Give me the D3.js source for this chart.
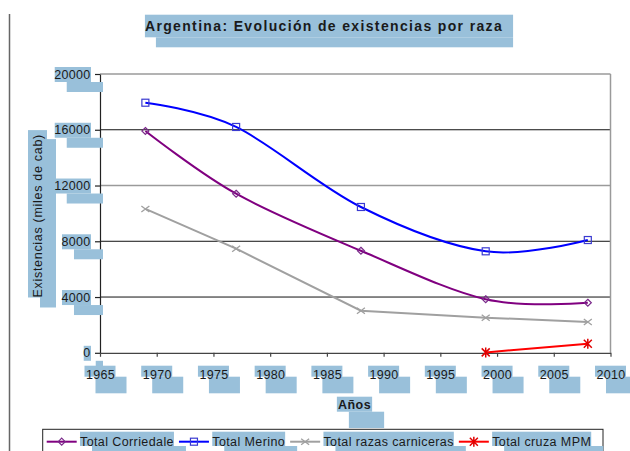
<!DOCTYPE html>
<html>
<head>
<meta charset="utf-8">
<script src="https://cdn.jsdelivr.net/npm/d3@7"></script>
<style>
  html, body { margin: 0; padding: 0; background: #fff; }
  svg { display: block; }
  text { font-family: "Liberation Sans", Arial, sans-serif; fill: #1a1a1a; }
</style>
</head>
<body>
<script>
// ---- data ----
const years = [1969, 1977, 1988, 1999, 2008];
const corriedale = [15910, 11410, 7320, 3840, 3590];
const merino = [17940, 16200, 10460, 7280, 8090];
const carniceras = [10320, 7470, 3020, 2520, 2210];
const mpmYears = [1999, 2008];
const mpm = [30, 650];
const yTicks = [0, 4000, 8000, 12000, 16000, 20000];
const xTicks = [1965, 1970, 1975, 1980, 1985, 1990, 1995, 2000, 2005, 2010];
const seriesNames = ["Total Corriedale", "Total Merino", "Total razas carniceras", "Total cruza MPM"];
const titleText = "Argentina: Evolución de existencias por raza";
const yTitle = "Existencias (miles de cab)";
const xTitle = "Años";

// ---- setup ----
const W = 630, H = 451;
const HL = "#99c0da";
const svg = d3.select("body").append("svg").attr("width", W).attr("height", H);
const gChart = svg.append("g");
const gHi = svg.append("g");
const gText = svg.append("g");

const x = d3.scaleLinear().domain([1965, 2010]).range([100, 610.5]);
const y = d3.scaleLinear().domain([0, 20000]).range([352.8, 74]);

// page border line on the left
gChart.append("line").attr("x1", 9.5).attr("x2", 9.5).attr("y1", 14).attr("y2", H)
  .attr("stroke", "#666").attr("stroke-width", 1.5);

// gridlines
gChart.selectAll("line.grid").data(yTicks.filter(v => v > 0)).join("line")
  .attr("class", "grid")
  .attr("x1", x(1965)).attr("x2", x(2010))
  .attr("y1", d => y(d)).attr("y2", d => y(d))
  .attr("stroke", d => (d === 12000 || d === 20000) ? "#9a9a9a" : "#111")
  .attr("stroke-width", d => (d === 12000 || d === 20000) ? 1.7 : 1);

// right border of plot
gChart.append("line").attr("x1", x(2010)).attr("x2", x(2010))
  .attr("y1", y(20000)).attr("y2", y(0)).attr("stroke", "#9a9a9a").attr("stroke-width", 1.5);

// axes
const yAxis = gChart.append("g").attr("transform", `translate(${x(1965)},0)`)
  .call(d3.axisLeft(y).tickValues(yTicks).tickSize(5).tickSizeOuter(0).tickFormat(""));
yAxis.selectAll("path,line").attr("stroke", "#222").attr("stroke-width", 1.2);
const xAxis = gChart.append("g").attr("transform", `translate(0,${y(0)})`)
  .call(d3.axisBottom(x).tickValues(xTicks).tickSize(4).tickSizeOuter(0).tickFormat(""));
xAxis.selectAll("path,line").attr("stroke", "#444").attr("stroke-width", 1.2);

// series
const smooth = d3.line().x(d => x(d[0])).y(d => y(d[1])).curve(d3.curveCardinal.tension(0));
const straight = d3.line().x(d => x(d[0])).y(d => y(d[1]));
const series = [
  { name: seriesNames[0], pts: years.map((yr, i) => [yr, corriedale[i]]), color: "#800080", line: smooth, marker: "diamond", mcolor: "#7a2a8a" },
  { name: seriesNames[1], pts: years.map((yr, i) => [yr, merino[i]]), color: "#0000ff", line: smooth, marker: "square", mcolor: "#3a3ad0" },
  { name: seriesNames[2], pts: years.map((yr, i) => [yr, carniceras[i]]), color: "#a0a0a0", line: straight, marker: "x", mcolor: "#a0a0a0" },
  { name: seriesNames[3], pts: mpmYears.map((yr, i) => [yr, mpm[i]]), color: "#ff0000", line: straight, marker: "star", mcolor: "#e00000" }
];

function drawMarker(g, type, cx, cy, color) {
  if (type === "diamond") {
    g.append("path").attr("d", `M${cx},${cy - 3.5}L${cx + 3.5},${cy}L${cx},${cy + 3.5}L${cx - 3.5},${cy}Z`)
      .attr("fill", "none").attr("stroke", color).attr("stroke-width", 1.2);
  } else if (type === "square") {
    g.append("rect").attr("x", cx - 3.5).attr("y", cy - 3.5).attr("width", 7).attr("height", 7)
      .attr("fill", "none").attr("stroke", color).attr("stroke-width", 1.2);
  } else if (type === "x") {
    g.append("path").attr("d", `M${cx - 4},${cy - 3}L${cx + 4},${cy + 3}M${cx - 4},${cy + 3}L${cx + 4},${cy - 3}`)
      .attr("stroke", color).attr("stroke-width", 1.3);
  } else if (type === "star") {
    g.append("path").attr("d", `M${cx - 4},${cy - 4}L${cx + 4},${cy + 4}M${cx - 4},${cy + 4}L${cx + 4},${cy - 4}M${cx},${cy - 5}L${cx},${cy + 5}`)
      .attr("stroke", color).attr("stroke-width", 1.5);
  }
}

series.forEach(s => {
  gChart.append("path").attr("d", s.line(s.pts)).attr("fill", "none")
    .attr("stroke", s.color).attr("stroke-width", 2);
  const gm = gChart.append("g");
  s.pts.forEach(p => drawMarker(gm, s.marker, x(p[0]), y(p[1]), s.mcolor));
});

// ---- texts & highlights ----
function hi(x0, y0, w, h) {
  gHi.append("rect").attr("x", x0).attr("y", y0).attr("width", Math.max(0, w)).attr("height", h).attr("fill", HL);
}
function txt(str, attrs, size, weight, ls) {
  const t = gText.append("text").text(str)
    .attr("font-size", size).attr("font-weight", weight || "normal")
    .attr("letter-spacing", ls || 0);
  Object.entries(attrs).forEach(([k, v]) => t.attr(k, v));
  return t;
}

// title
{
  const t = txt(titleText, { x: 324, y: 31.3, "text-anchor": "middle" }, 14, "bold", 1.35);
  const w = t.node().getComputedTextLength();
  const x0 = 324 - w / 2;
  hi(x0, 14.7, w + 10, 22.6);
  hi(x0 + 11, 37.3, w - 1, 10);
}

// y tick labels
yTicks.forEach(v => {
  const t = txt(String(v), { x: 90.5, y: y(v) + 4.5, "text-anchor": "end" }, 12.5, "normal", 0.3);
  const w = t.node().getComputedTextLength();
  hi(91 - w, y(v) - 7, w, 15);
  hi(91 - w + 12, y(v) + 8, w, 10);
});

// x tick labels
xTicks.forEach(v => {
  const t = txt(String(v), { x: x(v) + 0.5, y: 378.7, "text-anchor": "middle" }, 12.5, "normal", 0.3);
  const w = t.node().getComputedTextLength();
  hi(x(v) - w / 2 - 1, 365.7, w + 2, 11);
  hi(x(v) - w / 2 + 10, 376.7, w + 2, 16.6);
});

// x title
{
  const cx = 354.5;
  const t = txt(xTitle, { x: cx, y: 408.5, "text-anchor": "middle" }, 12.5, "bold", 0.5);
  const w = t.node().getComputedTextLength();
  hi(cx - w / 2 - 1, 396.7, w + 2, 15);
  hi(cx - w / 2 + 11, 411.7, w + 2, 16.3);
}

// y title (rotated)
{
  const cy = 215.8;
  const t = txt(yTitle, { transform: `translate(41.5,${cy}) rotate(-90)`, "text-anchor": "middle" }, 12.5, "normal", 0.7);
  const w = t.node().getComputedTextLength();
  hi(28, cy - w / 2 - 4, 19, w + 4);
  hi(40, cy - w / 2 + 5, 16, w + 5);
}

// legend
gChart.append("rect").attr("x", 42.7).attr("y", 429.3).attr("width", 560.3).attr("height", 40)
  .attr("fill", "none").attr("stroke", "#222").attr("stroke-width", 1);
{
  let x0 = 46.7;
  const ly = 441.7;
  series.forEach(s => {
    gChart.append("line").attr("x1", x0).attr("x2", x0 + 30).attr("y1", ly).attr("y2", ly)
      .attr("stroke", s.color).attr("stroke-width", 2);
    drawMarker(gChart, s.marker, x0 + 15, ly, s.mcolor);
    const tx = x0 + 33.3;
    const t = txt(s.name, { x: tx, y: 445.7 }, 12.5, "normal", 0.4);
    const w = t.node().getComputedTextLength();
    hi(tx, 431.7, w, 14.3);
    hi(tx + 12, 446, w, 16);
    x0 = tx + w + 5;
  });
}
</script>
</body>
</html>
